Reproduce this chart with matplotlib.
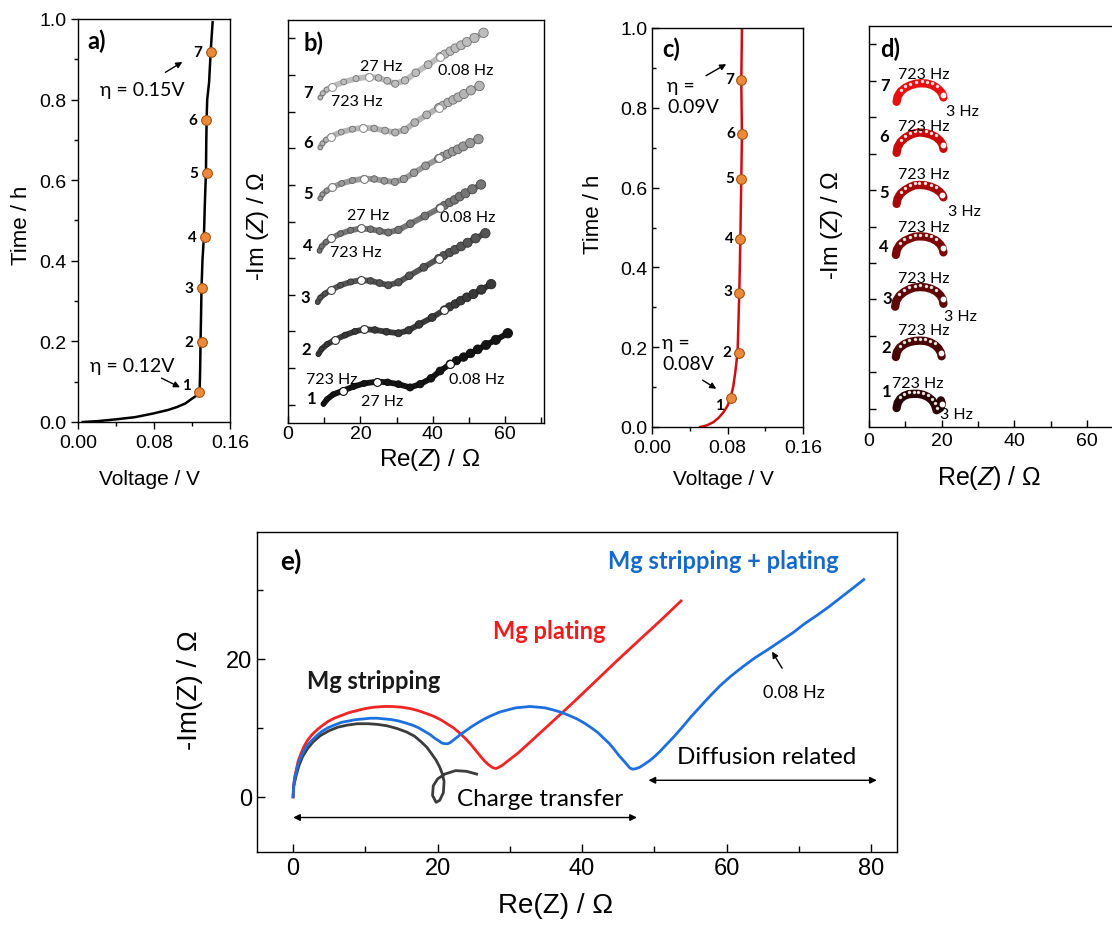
import numpy as np
import matplotlib
matplotlib.use('Agg')
import matplotlib.pyplot as plt
from matplotlib.colors import to_rgb
from matplotlib.ticker import MultipleLocator

plt.rcParams['font.family'] = ['Liberation Sans', 'DejaVu Sans']
plt.rcParams['mathtext.fontset'] = 'custom'
plt.rcParams['mathtext.it'] = 'Liberation Sans:italic'
plt.rcParams['mathtext.rm'] = 'Liberation Sans'
plt.rcParams['axes.linewidth'] = 1.0
ANN = ['Lato', 'DejaVu Sans']

# ---- panel a: stripping, voltage vs time ----
volt_a = [0.005, 0.020, 0.040, 0.060, 0.079, 0.095, 0.104, 0.113, 0.120, 0.125, 0.128,
          0.1285, 0.129, 0.1295, 0.130, 0.131, 0.1326, 0.1335, 0.1347, 0.135, 0.1354,
          0.136, 0.138, 0.1396, 0.1417]
time_a = [0.0, 0.002, 0.0066, 0.012, 0.021, 0.030, 0.037, 0.046, 0.058, 0.066, 0.074,
          0.12, 0.198, 0.26, 0.331, 0.40, 0.463, 0.54, 0.620, 0.69, 0.752,
          0.80, 0.843, 0.917, 0.992]
mark_v_a = [0.1277, 0.1300, 0.1300, 0.1336, 0.1354, 0.1347, 0.1396]
mark_t_a = [0.074, 0.198, 0.332, 0.460, 0.617, 0.750, 0.919]

# ---- panel c: plating, voltage vs time ----
volt_c = [0.0512, 0.058, 0.0653, 0.071, 0.0759, 0.080, 0.083, 0.086, 0.0883, 0.0907,
          0.0925, 0.0936, 0.0946, 0.0953, 0.0946, 0.0953]
time_c = [0.0, 0.004, 0.0125, 0.024, 0.0376, 0.053, 0.071, 0.10, 0.138, 0.188,
          0.338, 0.47, 0.62, 0.733, 0.866, 0.997]
mark_v_c = [0.0840, 0.0918, 0.0925, 0.0936, 0.0946, 0.0953, 0.0946]
mark_t_c = [0.073, 0.185, 0.337, 0.471, 0.621, 0.734, 0.869]

# ---- panel b: stacked Nyquist plots during stripping ----
re_b1 = [9.8, 10.8, 12.5, 15.1, 18.0, 21.0, 24.7, 27.5, 30.5, 33.7, 36.5, 39.5, 42.0,
         44.8, 46.5, 48.5, 50.4, 52.4, 54.7, 57.4, 60.7]
im_b1 = [0.2, 1.5, 2.8, 3.8, 4.9, 5.8, 6.3, 6.1, 5.6, 4.7, 5.6, 7.2, 9.2,
         11.1, 12.0, 13.0, 14.0, 15.1, 16.3, 17.7, 19.5]
re_b2 = [8.4, 9.3, 10.8, 13.0, 15.8, 18.5, 21.1, 24.0, 27.2, 30.5, 33.3, 36.2, 39.8,
         43.2, 44.6, 46.2, 47.7, 49.4, 51.2, 53.4, 56.1]
im_b2 = [-0.2, 1.2, 2.5, 3.7, 5.0, 6.0, 6.6, 6.4, 5.9, 5.5, 6.3, 7.9, 9.8,
         11.9, 12.7, 13.5, 14.4, 15.3, 16.2, 17.4, 18.9]
re_b3 = [8.2, 8.9, 10.2, 11.9, 14.5, 17.3, 20.1, 22.8, 25.3, 27.7, 30.5, 33.5, 37.5,
         41.6, 43.0, 44.6, 46.1, 47.8, 49.6, 51.8, 54.5]
im_b3 = [0.0, 1.2, 2.3, 3.3, 4.6, 5.5, 6.0, 5.8, 5.2, 4.6, 5.4, 7.2, 9.5,
         11.9, 12.7, 13.5, 14.3, 15.2, 16.2, 17.4, 18.8]
re_b4 = [8.7, 9.3, 10.5, 11.9, 14.5, 17.3, 20.1, 22.8, 25.3, 27.7, 30.5, 33.8, 37.8,
         42.0, 43.2, 44.6, 46.0, 47.4, 49.0, 50.9, 53.3]
im_b4 = [0.0, 1.2, 2.4, 3.4, 4.7, 5.6, 6.1, 5.9, 5.4, 5.0, 5.7, 7.4, 9.5,
         11.7, 12.4, 13.2, 13.9, 14.8, 15.7, 16.8, 18.1]
re_b5 = [8.9, 9.5, 10.7, 12.1, 14.8, 17.8, 21.0, 23.8, 26.6, 29.5, 32.0, 34.8, 38.0,
         41.6, 42.8, 44.1, 45.5, 46.9, 48.4, 50.3, 52.6]
im_b5 = [0.3, 1.4, 2.4, 3.3, 4.4, 5.2, 5.7, 5.6, 5.1, 4.8, 5.6, 7.3, 9.2,
         11.2, 11.8, 12.4, 13.1, 13.7, 14.5, 15.4, 16.5]
re_b6 = [8.9, 9.5, 10.5, 11.8, 14.7, 17.8, 20.8, 23.8, 26.8, 29.6, 32.2, 35.0, 38.3,
         41.6, 42.8, 44.2, 45.6, 47.0, 48.6, 50.5, 52.9]
im_b6 = [0.2, 1.3, 2.3, 3.2, 4.4, 5.2, 5.6, 5.4, 4.8, 4.3, 5.0, 7.0, 9.1,
         11.1, 11.7, 12.5, 13.2, 13.9, 14.8, 15.8, 17.0]
re_b7 = [8.9, 9.6, 10.7, 12.1, 15.4, 18.8, 22.4, 25.0, 27.4, 29.6, 32.3, 35.3, 38.7,
         42.0, 43.3, 44.8, 46.2, 47.8, 49.4, 51.5, 54.0]
im_b7 = [-0.2, 1.0, 2.0, 2.8, 4.1, 5.0, 5.5, 5.2, 4.4, 3.6, 4.5, 6.6, 8.8,
         11.0, 11.7, 12.5, 13.3, 14.1, 15.0, 16.1, 17.5]
b_offset = [0, 14, 28, 42, 56, 70, 84]
b_white = [3, 6, 13]   # points measured at 723 Hz, 27 Hz, 0.08 Hz

# ---- panel d: stacked Nyquist plots during plating ----
re_d1 = [7.6, 7.9, 8.6, 9.6, 10.9, 12.3, 13.6, 15.0, 16.3, 17.4, 18.2, 18.6, 19.6, 20.1, 19.8]
im_d1 = [0.2, 1.6, 2.7, 3.5, 4.0, 4.1, 4.1, 3.8, 3.2, 2.3, 1.0, -0.4, 0.2, 1.3, 2.3]
re_d2 = [7.4, 7.7, 8.5, 9.7, 11.1, 12.6, 14.0, 15.5, 16.9, 18.1, 19.1, 19.8, 20.0]
im_d2 = [0.2, 1.6, 2.8, 3.7, 4.3, 4.6, 4.7, 4.6, 4.2, 3.5, 2.6, 1.4, 0.4]
re_d3 = [7.2, 7.5, 8.4, 9.6, 11.1, 12.6, 14.0, 15.6, 17.1, 18.5, 19.6, 20.3, 20.5]
im_d3 = [0.0, 1.6, 3.0, 4.0, 4.8, 5.3, 5.4, 5.3, 4.9, 4.2, 3.2, 2.0, 0.8]
re_d4 = [7.4, 7.7, 8.5, 9.7, 11.2, 12.6, 14.0, 15.6, 17.1, 18.5, 19.6, 20.3, 20.5]
im_d4 = [0.2, 1.7, 3.0, 4.0, 4.7, 5.2, 5.3, 5.2, 4.8, 4.1, 3.1, 2.0, 0.9]
re_d5 = [7.6, 7.9, 8.7, 9.9, 11.3, 12.6, 13.9, 15.5, 17.0, 18.4, 19.5, 20.2, 20.5]
im_d5 = [0.2, 1.7, 3.0, 4.0, 4.8, 5.3, 5.4, 5.3, 4.9, 4.3, 3.5, 2.7, 2.0]
re_d6 = [7.6, 7.9, 8.7, 9.9, 11.3, 12.7, 14.0, 15.6, 17.1, 18.5, 19.6, 20.3, 20.5]
im_d6 = [0.2, 1.8, 3.2, 4.3, 5.1, 5.6, 5.8, 5.6, 5.2, 4.5, 3.5, 2.4, 1.3]
re_d7 = [7.6, 7.9, 8.7, 9.9, 11.3, 12.9, 14.5, 16.0, 17.4, 18.6, 19.6, 20.3, 20.5]
im_d7 = [0.2, 1.7, 3.0, 4.0, 4.7, 5.2, 5.3, 5.2, 4.8, 4.1, 3.2, 2.2, 1.4]
d_offset = [0, 14, 28, 42, 56, 70, 84]

# ---- panel e: comparison of Nyquist plots ----
strip_re = [0, 0.1, 0.4, 0.8, 1.3, 2.0, 2.8, 3.8, 5.0, 6.2, 7.5, 8.9, 10.4, 11.7, 13.0,
            14.4, 15.7, 16.8, 17.7, 18.5, 19.2, 19.8, 20.3, 20.7, 20.9, 20.8,
            20.3, 19.8, 19.3, 19.4, 20.0, 21.0, 22.5, 24.0, 25.4]
strip_im = [0, 1.6, 3.0, 4.5, 5.8, 7.0, 8.0, 8.9, 9.6, 10.1, 10.4, 10.6, 10.6, 10.5, 10.3,
            9.9, 9.4, 8.8, 8.0, 7.2, 6.2, 5.3, 4.3, 3.2, 2.2, 0.6,
            -0.5, -0.8, 0.2, 1.6, 2.6, 3.3, 3.8, 3.7, 3.3]
plat_re = [0, 0.05, 0.2, 0.45, 0.7, 1.1, 1.5, 2.0, 2.6, 3.3, 4.0, 4.8, 5.7, 6.7, 7.7,
           8.8, 10.0, 11.2, 12.5, 13.7, 15.0, 16.2, 17.3, 18.4, 19.4, 20.4, 21.3,
           22.2, 23.0, 23.8, 24.6, 25.3, 26.0, 26.5, 27.0, 27.4, 27.7, 28.1, 28.5,
           29.0, 29.6, 31.2, 33.5, 36.0, 38.8, 41.8, 45.0, 48.2, 51.0, 53.7]
plat_im = [0, 1.4, 2.8, 4.0, 5.2, 6.3, 7.3, 8.2, 9.0, 9.7, 10.3, 10.9, 11.4, 11.8, 12.2,
           12.5, 12.8, 13.0, 13.1, 13.1, 13.0, 12.8, 12.5, 12.1, 11.7, 11.2, 10.6,
           10.0, 9.3, 8.5, 7.6, 6.7, 5.8, 5.2, 4.7, 4.4, 4.2, 4.1, 4.3,
           4.6, 5.1, 6.4, 8.6, 11.0, 13.7, 16.7, 19.9, 23.0, 25.7, 28.4]
both_re = [0, 0.05, 0.2, 0.45, 0.7, 1.1, 1.5, 2.0, 2.6, 3.3, 4.0, 4.8, 5.7, 6.7, 7.7,
           8.7, 9.8, 10.7, 11.6, 12.6, 13.6, 14.6, 15.6, 16.5, 17.4, 18.2, 19.0,
           19.6, 20.2, 20.6, 21.0, 21.4, 21.8, 22.4, 23.0, 23.8, 24.6, 25.5, 26.5,
           27.5, 28.6, 29.7, 30.8, 31.8, 32.8, 33.9, 34.9, 36.0, 37.0, 38.2, 39.3,
           40.3, 41.3, 42.2, 43.0, 43.8, 44.5, 45.1, 45.7, 46.2, 46.6, 47.0, 47.5,
           48.0, 48.6, 49.3, 50.0, 50.8, 51.7, 52.7, 53.8, 55.0, 56.3, 57.7, 59.1,
           60.6, 62.3, 64.0, 65.8, 67.5, 69.2, 70.8, 72.5, 74.1, 75.7, 77.3, 79.0]
both_im = [0, 1.3, 2.6, 3.7, 4.8, 5.8, 6.7, 7.5, 8.2, 8.9, 9.5, 10.0, 10.4, 10.8, 11.0,
           11.2, 11.3, 11.4, 11.4, 11.3, 11.2, 11.0, 10.7, 10.4, 10.0, 9.5, 9.0,
           8.5, 8.1, 7.8, 7.7, 7.7, 7.9, 8.4, 8.9, 9.5, 10.1, 10.7, 11.3,
           11.8, 12.3, 12.6, 12.9, 13.0, 13.1, 13.0, 12.9, 12.6, 12.3, 11.8, 11.3,
           10.7, 10.0, 9.3, 8.5, 7.7, 6.8, 6.0, 5.3, 4.7, 4.2, 4.0, 4.1,
           4.3, 4.7, 5.2, 5.8, 6.6, 7.6, 8.7, 10.0, 11.5, 13.0, 14.6, 16.1,
           17.5, 18.9, 20.2, 21.4, 22.6, 23.8, 25.1, 26.3, 27.5, 28.8, 30.1, 31.5]

gray_cols = ['#141414', '#3a3a3a', '#555555', '#767676', '#9a9a9a', '#b4b4b4', '#bdbdbd']
red_cols = ['#2a0404', '#4a0606', '#5e0808', '#7c0606', '#a40808', '#c80a0a', '#e81010']
orange = '#ec8a3c'


def darker(c, f=0.6):
	r, g, b = to_rgb(c)
	return (r * f, g * f, b * f)


W, H = 1112, 929
fig = plt.figure(figsize=(W / 100, H / 100), dpi=100)


def box(l, t, r, b):
	return [l / W, 1 - b / H, (r - l) / W, (b - t) / H]


# ================= panel a =================
ax = fig.add_axes(box(78, 20, 230, 423))
ax.plot(volt_a, time_a, color='black', lw=1.8)
ax.plot(mark_v_a, mark_t_a, 'o', ms=7, mfc=orange, mec='#a45210', mew=0.8)
for i, (v, t) in enumerate(zip(mark_v_a, mark_t_a)):
	dy = 5 if i == 0 else 0
	ax.annotate(str(i + 1), (v, t), xytext=(-6, dy), textcoords='offset points',
	            ha='right', va='center', fontsize=11, fontweight='bold', family=ANN)
ax.set_xlim(0, 0.16)
ax.set_ylim(0, 1.0)
ax.set_xticks([0, 0.08, 0.16])
ax.set_xticklabels(['0.00', '0.08', '0.16'])
ax.xaxis.set_minor_locator(MultipleLocator(0.04))
ax.yaxis.set_major_locator(MultipleLocator(0.2))
ax.yaxis.set_minor_locator(MultipleLocator(0.1))
ax.tick_params(which='both', direction='out', labelsize=14, width=1)
ax.tick_params(which='major', length=5)
ax.tick_params(which='minor', length=3)
ax.set_xlabel('Voltage / V', fontsize=15)
ax.set_ylabel('Time / h', fontsize=16)
ax.xaxis.set_label_coords(0.47, -0.117)
ax.yaxis.set_label_coords(-0.30, 0.49)
ax.text(0.010, 0.946, 'a)', fontsize=17, fontweight='bold', family=ANN, va='center')
ax.text(0.112, 0.826, 'η = 0.15V', fontsize=14, family=ANN, ha='right', va='center')
ax.annotate('', xy=(0.1123, 0.897), xytext=(0.0895, 0.864),
            arrowprops=dict(arrowstyle='-|>', color='black', lw=1, mutation_scale=9))
ax.text(0.013, 0.14, 'η = 0.12V', fontsize=14, family=ANN, ha='left', va='center')
ax.annotate('', xy=(0.110, 0.083), xytext=(0.0853, 0.112),
            arrowprops=dict(arrowstyle='-|>', color='black', lw=1, mutation_scale=9))

# ================= panel b =================
b_re = [re_b1, re_b2, re_b3, re_b4, re_b5, re_b6, re_b7]
b_im = [im_b1, im_b2, im_b3, im_b4, im_b5, im_b6, im_b7]
ax = fig.add_axes(box(288, 21, 544, 424))
for k in range(7):
	re = np.array(b_re[k])
	im = np.array(b_im[k]) + b_offset[k]
	col = gray_cols[k]
	ax.plot(re, im, color=col, lw=4.2, solid_capstyle='round', zorder=2)
	sizes = np.linspace(10, 46, len(re))
	ax.scatter(re, im, s=sizes, color=col, edgecolors=[darker(col)], linewidths=0.6, zorder=3)
	ax.scatter(re[b_white], im[b_white], s=32, color='white', edgecolors=[darker(col, 0.8)],
	           linewidths=0.8, zorder=4)
	ax.text(re[0] - 2.0, im[0] + 1.5, str(k + 1), fontsize=12, fontweight='bold', family=ANN,
	        ha='right', va='center')
for (x, y) in [(12.0, 7.0), (18.8, 41.8), (19.0, 82.9)]:
	ax.text(x, y, '723 Hz', fontsize=11.5, family=ANN, ha='center', va='center')
for (x, y) in [(25.9, 0.9), (22.0, 51.7), (25.7, 92.4)]:
	ax.text(x, y, '27 Hz', fontsize=11.5, family=ANN, ha='center', va='center')
for (x, y) in [(52.0, 7.0), (49.7, 51.1), (49.2, 91.4)]:
	ax.text(x, y, '0.08 Hz', fontsize=11.5, family=ANN, ha='center', va='center')
ax.text(4.2, 99.0, 'b)', fontsize=17, fontweight='bold', family=ANN, va='center')
ax.set_xlim(0, 70.7)
ax.set_ylim(-5, 105)
ax.set_xticks([0, 20, 40, 60])
ax.xaxis.set_minor_locator(MultipleLocator(10))
ax.set_yticks(range(0, 101, 10))
ax.set_yticklabels([])
ax.tick_params(which='both', direction='in', labelsize=14, width=1)
ax.tick_params(axis='x', pad=1.5)
ax.tick_params(which='major', length=5)
ax.tick_params(which='minor', length=4)
ax.set_xlabel(r'Re($Z$) / Ω', fontsize=17.5)
ax.set_ylabel(r'-Im ($Z$) / Ω', fontsize=17)
ax.xaxis.set_label_coords(0.555, -0.058)
ax.yaxis.set_label_coords(-0.066, 0.49)

# ================= panel c =================
ax = fig.add_axes(box(652, 29, 803, 428))
ax.plot(volt_c, time_c, color='#cc1010', lw=1.8)
ax.plot(mark_v_c, mark_t_c, 'o', ms=7, mfc=orange, mec='#a45210', mew=0.8)
for i, (v, t) in enumerate(zip(mark_v_c, mark_t_c)):
	dy = -5 if i == 0 else 1
	ax.annotate(str(i + 1), (v, t), xytext=(-5, dy), textcoords='offset points',
	            ha='right', va='center', fontsize=11, fontweight='bold', family=ANN)
ax.set_xlim(0, 0.16)
ax.set_ylim(0, 1.0)
ax.set_xticks([0, 0.08, 0.16])
ax.set_xticklabels(['0.00', '0.08', '0.16'])
ax.xaxis.set_minor_locator(MultipleLocator(0.04))
ax.yaxis.set_major_locator(MultipleLocator(0.2))
ax.yaxis.set_minor_locator(MultipleLocator(0.1))
ax.tick_params(which='both', labelsize=14, width=1)
ax.tick_params(axis='x', which='both', direction='out')
ax.tick_params(axis='y', which='both', direction='in')
ax.tick_params(which='major', length=5)
ax.tick_params(which='minor', length=3)
ax.set_xlabel('Voltage / V', fontsize=15)
ax.set_ylabel('Time / h', fontsize=16)
ax.xaxis.set_label_coords(0.474, -0.105)
ax.yaxis.set_label_coords(-0.316, 0.535)
ax.text(0.0106, 0.95, 'c)', fontsize=17, fontweight='bold', family=ANN, va='center')
ax.text(0.0159, 0.83, 'η =\n0.09V', fontsize=14, family=ANN, ha='left', va='center',
        linespacing=1.25)
ax.annotate('', xy=(0.0812, 0.913), xytext=(0.0547, 0.877),
            arrowprops=dict(arrowstyle='-|>', color='black', lw=1, mutation_scale=9))
ax.text(0.0106, 0.185, 'η =\n0.08V', fontsize=14, family=ANN, ha='left', va='center',
        linespacing=1.25)
ax.annotate('', xy=(0.0706, 0.092), xytext=(0.0512, 0.121),
            arrowprops=dict(arrowstyle='-|>', color='black', lw=1, mutation_scale=9))

# ================= panel d =================
d_re = [re_d1, re_d2, re_d3, re_d4, re_d5, re_d6, re_d7]
d_im = [im_d1, im_d2, im_d3, im_d4, im_d5, im_d6, im_d7]
ax = fig.add_axes(box(869, 27, 869 + 70.7 * 3.63, 428))
for k in range(7):
	re = np.array(d_re[k])
	im = np.array(d_im[k]) + d_offset[k]
	col = red_cols[k]
	ax.plot(re, im, color=col, lw=6, solid_capstyle='round', solid_joinstyle='round', zorder=2)
	ax.scatter(re[2:-3], im[2:-3] + 0.5, s=2, color='white', alpha=0.8, zorder=3)
	ax.scatter(re[-2:-1], im[-2:-1], s=10, color='white', zorder=4)
ax.text(15.0 - 1.7, 7.1, '723 Hz', fontsize=11.5, family=ANN, ha='center', va='center')
for y in [21.7, 35.8, 49.8, 64.4, 77.5, 91.8]:
	ax.text(15.0, y, '723 Hz', fontsize=11.5, family=ANN, ha='center', va='center')
for (x, y) in [(24.2, -1.4), (25.1, 25.4), (26.2, 54.3), (25.7, 81.6)]:
	ax.text(x, y, '3 Hz', fontsize=11.5, family=ANN, ha='center', va='center')
for k, (x, y) in enumerate([(5.0, 4.8), (4.7, 16.9), (4.9, 30.3), (4.1, 44.6),
                            (4.1, 59.5), (4.1, 74.7), (4.4, 88.8)]):
	ax.text(x, y, str(k + 1), fontsize=12, fontweight='bold', family=ANN,
	        ha='center', va='center')
ax.text(3.0, 98.9, 'd)', fontsize=17, fontweight='bold', family=ANN, va='center')
ax.set_xlim(0, 70.7)
ax.set_ylim(-5, 105)
ax.set_xticks([0, 20, 40, 60])
ax.xaxis.set_minor_locator(MultipleLocator(10))
ax.set_yticks(range(0, 101, 10))
ax.set_yticklabels([])
ax.tick_params(which='both', direction='in', labelsize=14, width=1)
ax.tick_params(which='major', length=5)
ax.tick_params(which='minor', length=4)
ax.set_xlabel(r'Re($Z$) / Ω', fontsize=18)
ax.set_ylabel(r'-Im ($Z$) / Ω', fontsize=17)
ax.xaxis.set_label_coords(0.47, -0.091)
ax.yaxis.set_label_coords(-0.094, 0.506)

# ================= panel e =================
ax = fig.add_axes(box(257, 533, 897, 853))
ax.plot(strip_re, strip_im, color='#3c3c3c', lw=2)
ax.plot(plat_re, plat_im, color='#f02424', lw=2)
ax.plot(both_re, both_im, color='#1d6fe0', lw=2)
ax.text(-1.8, 34.3, 'e)', fontsize=19, fontweight='bold', family=ANN, va='center')
ax.text(1.9, 16.8, 'Mg stripping', fontsize=17, fontweight='bold', family=ANN,
        color='#1a1a1a', va='center')
ax.text(27.7, 24.1, 'Mg plating', fontsize=17, fontweight='bold', family=ANN,
        color='#ee1c1c', va='center')
ax.text(43.6, 34.2, 'Mg stripping + plating', fontsize=17, fontweight='bold', family=ANN,
        color='#1769c8', va='center')
ax.text(22.7, -0.3, 'Charge transfer', fontsize=17.5, family=ANN, va='center')
ax.text(53.1, 5.8, 'Diffusion related', fontsize=17.5, family=ANN, va='center')
ax.text(65.0, 15.2, '0.08 Hz', fontsize=13, family=ANN, va='center')
ax.annotate('', xy=(66.1, 21.4), xytext=(67.9, 18.3),
            arrowprops=dict(arrowstyle='-|>', color='black', lw=1, mutation_scale=9))
ax.annotate('', xy=(0, -3.0), xytext=(47.6, -3.0),
            arrowprops=dict(arrowstyle='<|-|>', color='black', lw=1, mutation_scale=10,
                            shrinkA=0, shrinkB=0))
ax.annotate('', xy=(49.2, 2.4), xytext=(80.8, 2.4),
            arrowprops=dict(arrowstyle='<|-|>', color='black', lw=1, mutation_scale=10,
                            shrinkA=0, shrinkB=0))
ax.set_xlim(-5, 83.6)
ax.set_ylim(-8, 38.4)
ax.xaxis.set_major_locator(MultipleLocator(20))
ax.xaxis.set_minor_locator(MultipleLocator(10))
ax.yaxis.set_major_locator(MultipleLocator(20))
ax.yaxis.set_minor_locator(MultipleLocator(10))
ax.tick_params(which='both', direction='in', labelsize=17, width=1)
ax.tick_params(which='major', length=6)
ax.tick_params(which='minor', length=4)
ax.set_xlabel('Re(Z) / Ω', fontsize=20)
ax.set_ylabel('-Im(Z) / Ω', fontsize=20)
ax.xaxis.set_label_coords(0.466, -0.125)
ax.yaxis.set_label_coords(-0.085, 0.51)

plt.savefig('out.png', dpi=100)
plt.close('all')
